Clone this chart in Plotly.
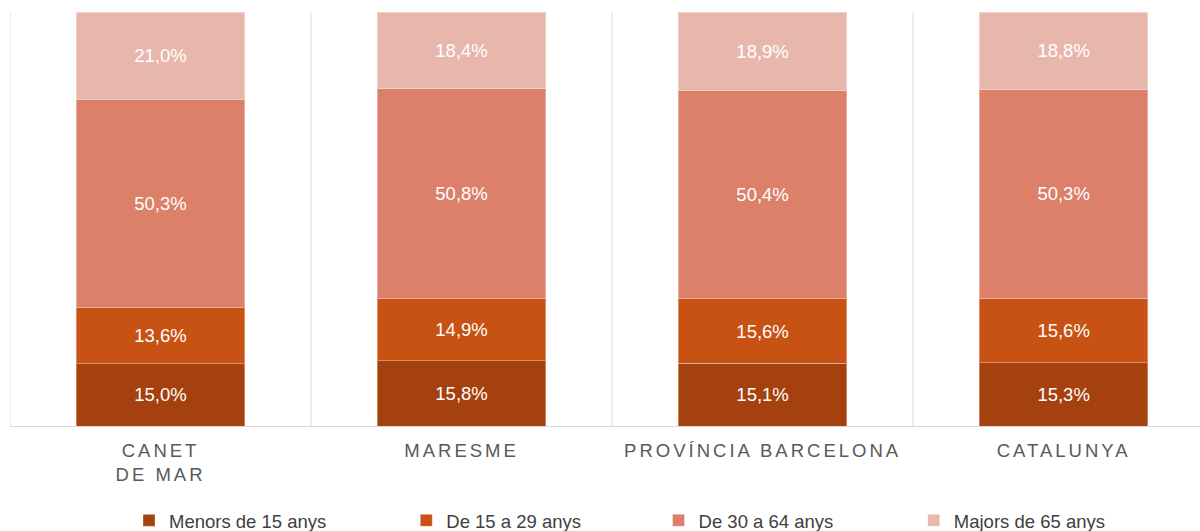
import plotly.graph_objects as go

categories = ["CANET<br>DE MAR", "MARESME", "PROVÍNCIA BARCELONA", "CATALUNYA"]
series_names = ["Menors de 15 anys", "De 15 a 29 anys", "De 30 a 64 anys", "Majors de 65 anys"]
menors_15 = [15.0, 15.8, 15.1, 15.3]
de_15_29 = [13.6, 14.9, 15.6, 15.6]
de_30_64 = [50.3, 50.8, 50.4, 50.3]
majors_65 = [21.0, 18.4, 18.9, 18.8]

series_values = [menors_15, de_15_29, de_30_64, majors_65]
colors = ["#A5410E", "#C85214", "#DC806A", "#E8B7AC"]
legend_ids = ["legend", "legend2", "legend3", "legend4"]
legend_x = [0.1, 0.333, 0.545, 0.7595]

FONT = "Liberation Sans, Arial, sans-serif"

fig = go.Figure()
for name, vals, col, lid in zip(series_names, series_values, colors, legend_ids):
    fig.add_trace(go.Bar(
        x=categories, y=vals, name=name, legend=lid,
        marker=dict(color=col, line=dict(color="rgba(255,255,255,0.35)", width=1)),
        width=0.56,
        texttemplate="%{y:.1f}%", textposition="inside",
        insidetextanchor="middle", textangle=0, constraintext="none",
        textfont=dict(color="white", size=18.5, family=FONT),
        hoverinfo="skip",
    ))

shapes = []
for i in range(len(categories)):
    shapes.append(dict(type="line", xref="x", yref="y", x0=i - 0.5, x1=i - 0.5,
                       y0=0, y1=100, line=dict(color="#D9D9D9", width=1), layer="below"))

layout_legends = {}
for lid, lx in zip(legend_ids, legend_x):
    layout_legends[lid] = dict(
        x=lx, y=-0.229, xanchor="left", yanchor="middle", orientation="h",
        font=dict(size=18.5, color="#404040", family=FONT),
        bgcolor="rgba(0,0,0,0)", itemwidth=30, tracegroupgap=0,
    )

tick_text = ['<span style="letter-spacing:3px">' + c.replace("<br>", '</span><br><span style="letter-spacing:3px">') + "</span>"
             for c in categories]

fig.update_layout(
    width=1200, height=531,
    barmode="stack",
    separators=",.",
    paper_bgcolor="white", plot_bgcolor="white",
    margin=dict(l=10, r=0, t=12, b=105, autoexpand=False),
    showlegend=True,
    shapes=shapes,
    font=dict(family=FONT),
    xaxis=dict(
        range=[-0.5, 3.453], showgrid=False, zeroline=False,
        showline=True, linecolor="#D9D9D9", linewidth=1,
        ticks="", ticklabelstandoff=8,
        tickmode="array", tickvals=categories, ticktext=tick_text,
        tickfont=dict(size=18.5, color="#595959", family=FONT),
        fixedrange=True,
    ),
    yaxis=dict(range=[0, 100], visible=False, fixedrange=True),
    **layout_legends,
)

fig.write_html("out.html", config={"displayModeBar": False},
               post_script="document.body.style.margin='0';document.body.style.overflow='hidden';")
